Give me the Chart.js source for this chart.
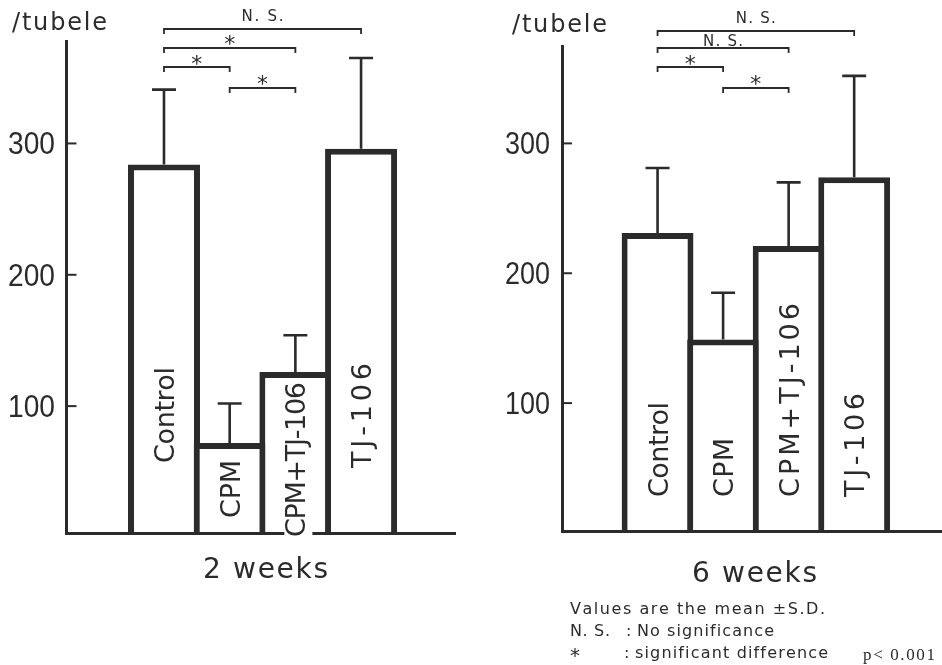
<!DOCTYPE html>
<html><head><meta charset="utf-8">
<script src="https://cdn.jsdelivr.net/npm/chart.js@4.4.1/dist/chart.umd.min.js"></script>
<style>
html,body{margin:0;padding:0;background:#fff;overflow:hidden;width:942px;height:665px}
#w{position:relative;width:942px;height:665px}
.c{position:absolute;top:0;height:665px}
#b1{left:0;width:470px}
#b2{left:470px;width:472px}
</style></head><body><div id="w">
<div class="c" id="b1"><canvas id="c1"></canvas></div>
<div class="c" id="b2"><canvas id="c2"></canvas></div>
</div>
<script>
// ---------- data ----------
const categories = ['Control', 'CPM', 'CPM+TJ-106', 'TJ-106'];
const mean2w = [284, 72, 126, 296];
const sd2w = [57, 30, 28, 69];
const mean6w = [231, 149, 221, 274];
const sd6w = [50, 36, 49, 78];
const yTicks = [100, 200, 300];
const unitLabel = '/tubele';
const periodLabels = ['2 weeks', '6 weeks'];
const bracketPairs2w = [[0, 3], [0, 2], [0, 1], [1, 2]];
const bracketMarks2w = ['N. S.', '*', '*', '*'];
const bracketPairs6w = [[0, 3], [0, 2], [0, 1], [1, 2]];
const bracketMarks6w = ['N. S.', 'N. S.', '*', '*'];
const noteLine1 = 'Values are the mean \u00B1S.D.';
const noteKeys = ['N. S.', '*'];
const noteTexts = ['No significance', 'significant difference'];
const pValue = 'p< 0.001';

// ---------- style / layout ----------
const INK = '#2b2b2b';
const SANS = "'DejaVu Sans', 'Liberation Sans', sans-serif";
const TICKFONT = "32px 'Liberation Sans', Arial, sans-serif";

const layout2w = {
  canvasLeft: 0, axisW: 66.5, padTop: 41, padBottom: 132, padRight: 15,
  yMin: 3.4, yMax: 378, xMin: -0.484, xMax: 5.43,
  labelBottom: [70, 15, -4, 65], labelLen: [96, 58, 155, 105],
  bracketY: [29, 48, 67, 88], markGap: [8, 8, 7, 8], nsW: 42,
  tickLabelRight: 55, tickLabelW: 47,
  unit: {x: 12, y: 30, w: 95}, period: {x: 203, y: 578, w: 125}
};
const layout6w = {
  canvasLeft: 470, axisW: 92, padTop: 46, padBottom: 134, padRight: 0,
  yMin: 1.5, yMax: 375, xMin: -0.458, xMax: 5.34,
  labelBottom: [34, 34, 34, 34], labelLen: [95, 59, 194, 104],
  bracketY: [31, 48, 67, 88], markGap: [8, 2.5, 7, 8], nsW: 40,
  tickLabelRight: 80, tickLabelW: 45,
  unit: {x: 512, y: 32, w: 95}, period: {x: 692, y: 582, w: 125},
  notes: true
};

function drawSpaced(ctx, text, x, y, target) {
  const chars = [...text];
  const ws = chars.map(c => ctx.measureText(c).width);
  const nat = ws.reduce((a, b) => a + b, 0);
  const extra = chars.length > 1 ? (target - nat) / (chars.length - 1) : 0;
  let cx = x;
  ctx.textAlign = 'left';
  chars.forEach((c, i) => { ctx.fillText(c, cx, y); cx += ws[i] + extra; });
}

function annotPlugin(L, means, sds, pairs, marks, period) {
  return {
    id: 'annot',
    afterDraw(chart) {
      const ctx = chart.ctx;
      const xs = chart.scales.x, ys = chart.scales.y;
      const ca = chart.chartArea;
      const off = L.canvasLeft;
      ctx.save();
      ctx.strokeStyle = INK; ctx.fillStyle = INK;
      // inward tick marks + condensed tick labels
      ctx.lineWidth = 2;
      ys.ticks.forEach(t => {
        const y = ys.getPixelForValue(t.value);
        ctx.beginPath(); ctx.moveTo(ca.left, y); ctx.lineTo(ca.left + 10, y); ctx.stroke();
        ctx.save();
        ctx.font = TICKFONT;
        const label = String(t.value);
        const m = ctx.measureText(label);
        const sx = L.tickLabelW / m.width;
        ctx.translate(L.tickLabelRight, y);
        ctx.scale(sx, 1);
        ctx.textAlign = 'right';
        ctx.textBaseline = 'alphabetic';
        ctx.fillText(label, 0, m.actualBoundingBoxAscent / 2);
        ctx.restore();
      });
      // error bars (upper only)
      ctx.lineWidth = 2.6;
      means.forEach((m, i) => {
        const x = xs.getPixelForValue(i + 1);
        const y0 = ys.getPixelForValue(m);
        const y1 = ys.getPixelForValue(m + sds[i]);
        ctx.beginPath(); ctx.moveTo(x, y0); ctx.lineTo(x, y1);
        ctx.moveTo(x - 12, y1); ctx.lineTo(x + 12, y1); ctx.stroke();
      });
      // significance brackets
      ctx.lineWidth = 1.8;
      pairs.forEach((p, k) => {
        const xa = xs.getPixelForValue(p[0] + 1), xb = xs.getPixelForValue(p[1] + 1);
        const y = L.bracketY[k];
        ctx.beginPath(); ctx.moveTo(xa, y + 5); ctx.lineTo(xa, y); ctx.lineTo(xb, y); ctx.lineTo(xb, y + 5); ctx.stroke();
        const mid = (xa + xb) / 2;
        if (marks[k] === '*') {
          ctx.font = '22px ' + SANS;
          const mm = ctx.measureText('*');
          const h = mm.actualBoundingBoxAscent + mm.actualBoundingBoxDescent;
          ctx.textAlign = 'center';
          ctx.fillText('*', mid, y - L.markGap[k] - h / 2 + mm.actualBoundingBoxAscent);
        } else {
          ctx.font = '15px ' + SANS;
          drawSpaced(ctx, marks[k], mid - L.nsW / 2, y - L.markGap[k], L.nsW);
        }
      });
      // rotated labels inside bars
      ctx.font = '27px ' + SANS;
      const capH = ctx.measureText('C').actualBoundingBoxAscent;
      categories.forEach((c, i) => {
        const x = xs.getPixelForValue(i + 1);
        const by = ca.bottom - L.labelBottom[i];
        const mm = ctx.measureText(c);
        ctx.save();
        ctx.translate(x, by);
        ctx.rotate(-Math.PI / 2);
        ctx.fillStyle = '#fff';
        ctx.fillRect(-1, capH / 2 - mm.actualBoundingBoxAscent - 1, L.labelLen[i] + 2,
          mm.actualBoundingBoxAscent + mm.actualBoundingBoxDescent + 2);
        ctx.fillStyle = INK;
        drawSpaced(ctx, c, 0, capH / 2, L.labelLen[i]);
        ctx.restore();
      });
      // unit and period labels (page coordinates)
      ctx.translate(-off, 0);
      ctx.font = '24px ' + SANS;
      drawSpaced(ctx, unitLabel, L.unit.x, L.unit.y, L.unit.w);
      ctx.font = '28px ' + SANS;
      drawSpaced(ctx, period, L.period.x, L.period.y, L.period.w);
      if (L.notes) {
        ctx.font = '16px ' + SANS;
        drawSpaced(ctx, noteLine1, 570, 614, 255);
        drawSpaced(ctx, noteKeys[0], 570, 636, 40);
        drawSpaced(ctx, ':', 626, 636, 4);
        drawSpaced(ctx, noteTexts[0], 637, 636, 137);
        ctx.font = '20px ' + SANS;
        drawSpaced(ctx, noteKeys[1], 570, 662, 10);
        ctx.font = '16px ' + SANS;
        drawSpaced(ctx, ':', 624, 658, 4);
        drawSpaced(ctx, noteTexts[1], 635, 658, 193);
        ctx.font = "17px 'Liberation Serif', 'DejaVu Serif', serif";
        drawSpaced(ctx, pValue, 863, 660, 72);
      }
      ctx.restore();
    }
  };
}

function makeChart(id, L, means, sds, pairs, marks, period) {
  return new Chart(document.getElementById(id), {
    type: 'bar',
    data: {
      datasets: [{
        data: means.map((m, i) => ({x: i + 1, y: m})),
        backgroundColor: '#ffffff',
        borderColor: INK,
        borderWidth: 6,
        borderSkipped: 'start',
        base: L.yMin,
        barPercentage: 1.096,
        categoryPercentage: 1
      }]
    },
    options: {
      responsive: true,
      maintainAspectRatio: false,
      animation: false,
      events: [],
      layout: {padding: {left: 0, right: L.padRight, top: L.padTop, bottom: L.padBottom}},
      plugins: {legend: {display: false}, tooltip: {enabled: false}, title: {display: false}},
      scales: {
        x: {
          type: 'linear', min: L.xMin, max: L.xMax, offset: false,
          afterBuildTicks: s => { s.ticks = categories.map((c, i) => ({value: i + 1})); },
          afterFit: s => { s.height = 0; },
          ticks: {display: false},
          grid: {display: false, drawTicks: false},
          border: {display: true, width: 3, color: INK, z: 1}
        },
        y: {
          min: L.yMin, max: L.yMax,
          afterBuildTicks: s => { s.ticks = yTicks.map(v => ({value: v})); },
          afterFit: s => { s.width = L.axisW; },
          grid: {display: false, drawTicks: false},
          border: {display: true, width: 3, color: INK, z: 1},
          ticks: {display: false}
        }
      }
    },
    plugins: [annotPlugin(L, means, sds, pairs, marks, period)]
  });
}

makeChart('c1', layout2w, mean2w, sd2w, bracketPairs2w, bracketMarks2w, periodLabels[0]);
makeChart('c2', layout6w, mean6w, sd6w, bracketPairs6w, bracketMarks6w, periodLabels[1]);
</script>
</body></html>
